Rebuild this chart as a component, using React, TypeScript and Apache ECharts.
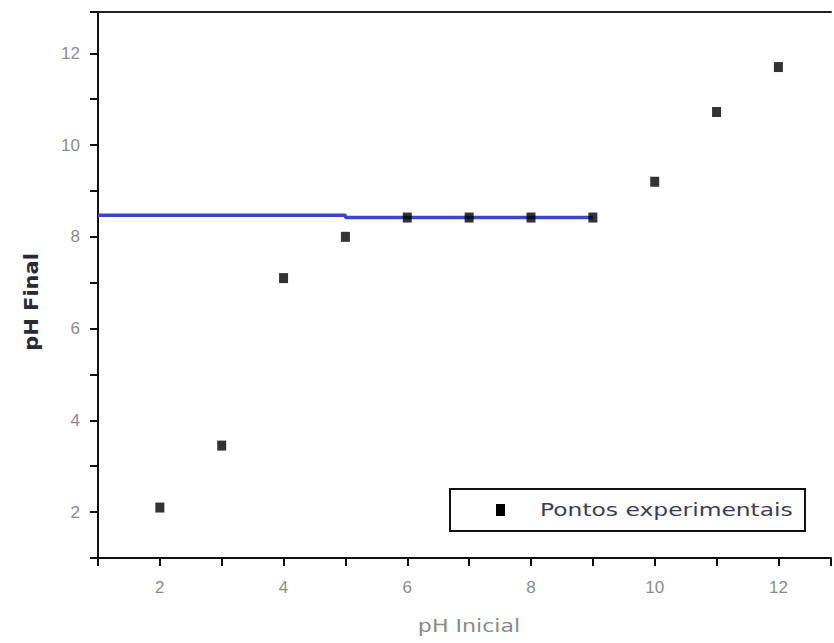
import React, { useEffect, useRef } from "react";
import * as echarts from "echarts";

const phInicial = [2, 3, 4, 5, 6, 7, 8, 9, 10, 11, 12];
const phFinal = [2.1, 3.45, 7.1, 8.0, 8.42, 8.42, 8.42, 8.42, 9.2, 10.72, 11.7];
const lineX = [1, 5, 5, 9];
const lineY = [8.47, 8.47, 8.42, 8.42];
const seriesName = "Pontos experimentais";
const xTitle = "pH Inicial";
const yTitle = "pH Final";

export default function App() {
  const ref = useRef<HTMLDivElement>(null);
  useEffect(() => {
    if (!ref.current) return;
    const chart = echarts.init(ref.current, null, { renderer: "svg" });
    const font = "Liberation Sans, Arial, sans-serif";
    const wide = "DejaVu Sans, sans-serif";
    chart.setOption({
      animation: false,
      backgroundColor: "#ffffff",
      grid: { left: 98, top: 12, right: 0, bottom: 85, containLabel: false },
      xAxis: [
        {
          type: "value",
          min: 1,
          max: 12.85,
          interval: 1,
          axisLine: { show: true, onZero: false, lineStyle: { color: "#111", width: 2 } },
          axisTick: { show: true, length: 8, lineStyle: { color: "#111", width: 2 } },
          axisLabel: {
            color: "#8c8c8c",
            fontSize: 17,
            fontFamily: font,
            margin: 21,
            formatter: (v: number) => (v % 2 === 0 ? String(v) : ""),
          },
          splitLine: { show: false },
        },
        {
          type: "value",
          position: "top",
          min: 1,
          max: 12.85,
          axisLine: { show: true, onZero: false, lineStyle: { color: "#222", width: 2 } },
          axisTick: { show: false },
          axisLabel: { show: false },
          splitLine: { show: false },
        },
      ],
      yAxis: {
        type: "value",
        min: 1,
        max: 12.9,
        interval: 1,
        axisLine: { show: true, onZero: false, lineStyle: { color: "#111", width: 2 } },
        axisTick: { show: true, length: 8, lineStyle: { color: "#111", width: 2 } },
        axisLabel: {
          color: "#8c8c8c",
          fontSize: 17,
          fontFamily: font,
          margin: 18,
          formatter: (v: number) => (v % 2 === 0 ? String(v) : ""),
        },
        splitLine: { show: false },
      },
      graphic: [
        {
          type: "rect",
          left: 449,
          top: 488,
          shape: { width: 355, height: 42 },
          style: { fill: "#ffffff", stroke: "#111", lineWidth: 2 },
          z: 10,
        },
        {
          type: "rect",
          x: 496,
          y: 504,
          shape: { width: 9, height: 12 },
          style: { fill: "#000000" },
          z: 11,
        },
        {
          type: "text",
          x: 540,
          y: 510,
          scaleX: 1.3,
          style: {
            text: seriesName,
            font: "18px " + wide,
            fill: "#3a3d5c",
            textAlign: "left",
            textVerticalAlign: "middle",
          },
          z: 11,
        },
        {
          type: "text",
          x: 469,
          y: 626,
          scaleX: 1.3,
          style: {
            text: xTitle,
            font: "17px " + wide,
            fill: "#8a8a8a",
            textAlign: "center",
            textVerticalAlign: "middle",
          },
          z: 11,
        },
        {
          type: "text",
          x: 31,
          y: 302,
          rotation: Math.PI / 2,
          scaleX: 1.05,
          style: {
            text: yTitle,
            font: "bold 20px " + wide,
            fill: "#2a2a36",
            textAlign: "center",
            textVerticalAlign: "middle",
          },
          z: 11,
        },
      ],
      series: [
        {
          name: "linha",
          type: "line",
          data: lineX.map((x, i) => [x, lineY[i]]),
          showSymbol: false,
          lineStyle: { color: "#3a45c8", width: 3.5 },
          z: 2,
        },
        {
          name: seriesName,
          type: "scatter",
          data: phInicial.map((x, i) => [x, phFinal[i]]),
          symbol: "rect",
          symbolSize: [9, 10],
          itemStyle: { color: "#000000" },
          z: 3,
        },
      ],
    });
    return () => chart.dispose();
  }, []);
  return (
    <div
      ref={ref}
      style={{ position: "fixed", left: 0, top: 0, width: 834, height: 643 }}
    />
  );
}
